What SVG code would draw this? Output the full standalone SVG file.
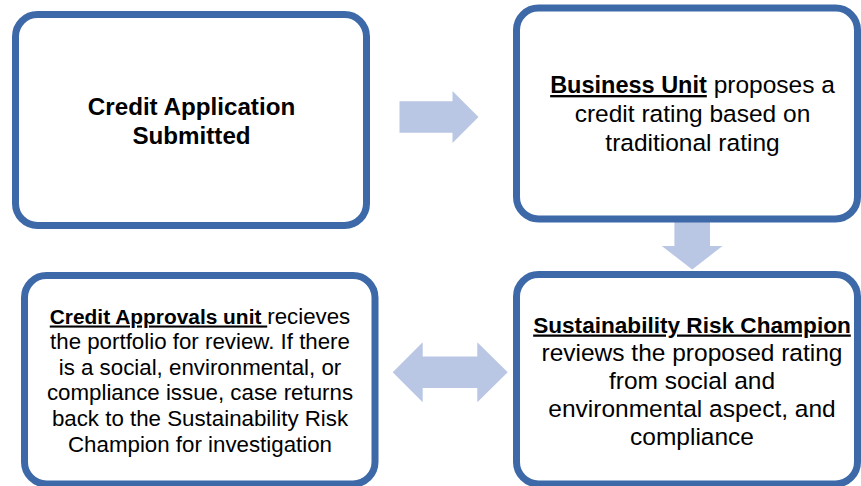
<svg xmlns="http://www.w3.org/2000/svg" width="861" height="486" viewBox="0 0 861 486">
  <style>
    .box { fill: #ffffff; stroke: #3d69a8; stroke-width: 7; }
    .arrow { fill: #b9c7e5; stroke: none; }
    text { font-family: "Liberation Sans", Arial, sans-serif; fill: #000000; text-anchor: middle; }
    .b { font-weight: bold; }
    .u { text-decoration: underline; }
  </style>
  <rect width="861" height="486" fill="#ffffff"/>
  <g id="connectors">
    <polygon class="arrow" points="399.5,101.3 452.5,101.3 452.5,91 478.5,117 452.5,143 452.5,132.7 399.5,132.7"/>
    <polygon class="arrow" points="674.4,222 710,222 710,246 722.5,246 692.2,269.5 661.8,246 674.4,246"/>
    <polygon class="arrow" points="392.7,372.3 422.7,342.3 422.7,356.5 477.3,356.5 477.3,342.3 507.7,372.3 477.3,402.3 477.3,388.1 422.7,388.1 422.7,402.3"/>
  </g>
  <g id="node-credit-application">
    <rect class="box" x="15.5" y="14.5" width="351" height="211" rx="22"/>
    <text class="b" font-size="24.2"><tspan x="191.5" y="115">Credit Application</tspan><tspan x="191.5" y="144">Submitted</tspan></text>
  </g>
  <g id="node-business-unit">
    <rect class="box" x="516.5" y="8" width="341" height="211" rx="22"/>
    <text font-size="24.5"><tspan x="692.5" y="93"><tspan class="b u" font-size="23.5">Business Unit</tspan> proposes a</tspan><tspan x="692.5" y="122">credit rating based on</tspan><tspan x="692.5" y="151">traditional rating</tspan></text>
  </g>
  <g id="node-credit-approvals">
    <rect class="box" x="24.5" y="275.5" width="350.5" height="208.5" rx="22"/>
    <text font-size="22.3"><tspan x="200" y="323.5"><tspan class="b u" font-size="20.9">Credit Approvals unit </tspan>recieves</tspan><tspan x="200" y="349.1">the portfolio for review. If there</tspan><tspan x="200" y="374.7">is a social, environmental, or</tspan><tspan x="200" y="400.3">compliance issue, case returns</tspan><tspan x="200" y="425.9">back to the Sustainability Risk</tspan><tspan x="200" y="451.5">Champion for investigation</tspan></text>
  </g>
  <g id="node-sustainability-risk-champion">
    <rect class="box" x="516.5" y="274.5" width="341" height="209.5" rx="22"/>
    <text font-size="24.5"><tspan class="b u" font-size="22.6" x="692" y="332.5">Sustainability Risk Champion</tspan><tspan x="692" y="360.6">reviews the proposed rating</tspan><tspan x="692" y="388.7">from social and</tspan><tspan x="692" y="416.8">environmental aspect, and</tspan><tspan x="692" y="444.9">compliance</tspan></text>
  </g>
</svg>
